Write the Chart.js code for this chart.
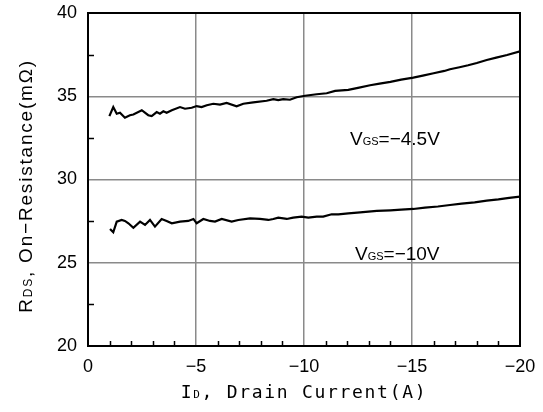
<!DOCTYPE html>
<html><head><meta charset="utf-8">
<script src="https://cdn.jsdelivr.net/npm/chart.js@4"></script>
<style>html,body{margin:0;padding:0;background:#fff}canvas{display:block}</style>
</head><body>
<canvas id="c" width="543" height="412"></canvas>
<script>
// ---- data ----
const currentVgs45 = [-0.99,-1.17,-1.33,-1.48,-1.71,-1.94,-2.10,-2.49,-2.79,-2.95,-3.18,-3.33,-3.49,-3.64,-3.88,-4.26,-4.49,-4.80,-5.03,-5.26,-5.50,-5.80,-6.11,-6.42,-6.88,-7.19,-7.65,-8.27,-8.58,-8.81,-9.04,-9.35,-9.66,-10.05,-10.59,-11.05,-11.44,-12.05,-12.5,-13.06,-13.5,-14.0,-14.5,-15.06,-15.5,-16.0,-16.5,-16.76,-17.2,-17.6,-18.0,-18.46,-18.9,-19.4,-20.0];
const rdsVgs45 = [33.81,34.35,33.95,34.01,33.71,33.86,33.90,34.16,33.86,33.81,34.05,33.95,34.10,34.01,34.16,34.35,34.25,34.31,34.41,34.35,34.46,34.55,34.50,34.60,34.40,34.55,34.63,34.73,34.83,34.77,34.83,34.79,34.94,35.03,35.12,35.18,35.32,35.38,35.50,35.66,35.76,35.86,36.00,36.12,36.24,36.38,36.52,36.62,36.74,36.86,37.00,37.18,37.32,37.48,37.70];
const currentVgs10 = [-1.02,-1.17,-1.33,-1.56,-1.71,-1.87,-2.10,-2.41,-2.64,-2.87,-3.10,-3.41,-3.64,-3.88,-4.26,-4.64,-4.88,-5.03,-5.34,-5.65,-5.88,-6.19,-6.65,-6.96,-7.50,-7.96,-8.35,-8.58,-8.81,-9.20,-9.50,-9.89,-10.20,-10.59,-10.89,-11.28,-11.59,-12.05,-12.6,-13.37,-14.0,-14.5,-15.06,-15.6,-16.2,-16.76,-17.3,-17.9,-18.46,-19.0,-19.5,-20.0];
const rdsVgs10 = [27.03,26.83,27.47,27.57,27.51,27.37,27.10,27.47,27.27,27.57,27.17,27.63,27.51,27.37,27.47,27.51,27.63,27.37,27.63,27.51,27.47,27.63,27.47,27.57,27.67,27.63,27.57,27.63,27.71,27.63,27.71,27.77,27.71,27.77,27.77,27.91,27.91,27.97,28.02,28.11,28.15,28.19,28.23,28.31,28.38,28.47,28.55,28.63,28.73,28.81,28.90,28.97];
const xTickValues = [0,-5,-10,-15,-20];
const yTickValues = [20,25,30,35,40];
const seriesNames = ['VGS=-4.5V','VGS=-10V'];
// annotation anchor points in data units
const labelAnchors = [[-12.13,32.49],[-12.36,25.56]];

const toPts = (xs, ys) => xs.map((x, i) => ({x, y: ys[i]}));
const minus = v => String(v).replace('-', '\u2212');

function drawSubText(ctx, y, main, sub, rest, font, size, subSize, spacing) {
  ctx.letterSpacing = spacing + 'px';
  ctx.font = size + 'px ' + font;
  const w1 = ctx.measureText(main).width;
  ctx.font = subSize + 'px ' + font;
  const w2 = ctx.measureText(sub).width;
  ctx.font = size + 'px ' + font;
  const w3 = ctx.measureText(rest).width;
  return {w: w1 + w2 + w3, draw(x0) {
    ctx.textAlign = 'left'; ctx.textBaseline = 'alphabetic';
    ctx.font = size + 'px ' + font; ctx.fillText(main, x0, y);
    ctx.font = subSize + 'px ' + font; ctx.fillText(sub, x0 + w1, y);
    ctx.font = size + 'px ' + font; ctx.fillText(rest, x0 + w1 + w2, y);
  }};
}

const decor = {
  id: 'decor',
  afterDraw(chart) {
    const {ctx, chartArea: a, scales: {x, y}} = chart;
    ctx.save();
    // minor ticks
    ctx.strokeStyle = '#000'; ctx.lineWidth = 1.5;
    for (let v = -1; v >= -19; v--) {
      if (v % 5 === 0) continue;
      const px = Math.round(x.getPixelForValue(v)) + 0.5;
      ctx.beginPath(); ctx.moveTo(px, a.bottom); ctx.lineTo(px, a.bottom - 5); ctx.stroke();
    }
    for (let v = 22.5; v < 40; v += 5) {
      const py = Math.round(y.getPixelForValue(v)) + 0.5;
      ctx.beginPath(); ctx.moveTo(a.left, py); ctx.lineTo(a.left + 6, py); ctx.stroke();
    }
    // frame
    ctx.lineWidth = 2;
    ctx.strokeRect(a.left, a.top, a.right - a.left, a.bottom - a.top);
    ctx.fillStyle = '#000';
    // x title
    let t = drawSubText(ctx, 398, 'I', 'D', ', Drain Current(A)', '"DejaVu Sans Mono", monospace', 18, 11, 1.7);
    t.draw((a.left + a.right) / 2 - t.w / 2);
    // y title
    ctx.save();
    ctx.translate(32, 186); ctx.rotate(-Math.PI / 2);
    t = drawSubText(ctx, 0, 'R', 'DS', ', On\u2212Resistance(m\u03A9)', '"Liberation Sans", Arial, sans-serif', 19, 12, 1.8);
    t.draw(-t.w / 2);
    ctx.restore();
    // annotations
    seriesNames.forEach((name, i) => {
      const px = x.getPixelForValue(labelAnchors[i][0]);
      const py = y.getPixelForValue(labelAnchors[i][1]);
      const tt = drawSubText(ctx, py + 7, name[0], name.slice(1, 3), minus(name.slice(3)), '"Liberation Sans", Arial, sans-serif', 19, 11, 0);
      tt.draw(px);
    });
    ctx.restore();
  }
};

new Chart(document.getElementById('c'), {
  type: 'scatter',
  data: {
    datasets: [
      {label: seriesNames[0], data: toPts(currentVgs45, rdsVgs45), showLine: true, borderColor: '#000', borderWidth: 2.2, pointRadius: 0, tension: 0, fill: false},
      {label: seriesNames[1], data: toPts(currentVgs10, rdsVgs10), showLine: true, borderColor: '#000', borderWidth: 2.2, pointRadius: 0, tension: 0, fill: false}
    ]
  },
  options: {
    responsive: false,
    animation: false,
    devicePixelRatio: 1,
    layout: {padding: {top: 13, right: 23, left: 0, bottom: 0}},
    plugins: {legend: {display: false}, tooltip: {enabled: false}},
    scales: {
      x: {
        type: 'linear', min: -20, max: 0, reverse: true,
        afterBuildTicks: s => { s.ticks = xTickValues.map(v => ({value: v})); },
        afterFit: s => { s.height = 66; s.paddingLeft = 0; s.paddingRight = 0; },
        grid: {color: '#8a8a8a', lineWidth: 1.5, drawTicks: false},
        border: {color: '#000', width: 2},
        ticks: {color: '#000', padding: 10, font: {family: '"Liberation Sans", Arial, sans-serif', size: 18}, callback: v => minus(v)}
      },
      y: {
        type: 'linear', min: 20, max: 40,
        afterBuildTicks: s => { s.ticks = yTickValues.map(v => ({value: v})); },
        afterFit: s => { s.width = 88; s.paddingTop = 0; s.paddingBottom = 0; },
        grid: {color: '#8a8a8a', lineWidth: 1.5, drawTicks: false},
        border: {color: '#000', width: 2},
        ticks: {color: '#000', padding: 11, font: {family: '"Liberation Sans", Arial, sans-serif', size: 18}}
      }
    }
  },
  plugins: [decor]
});
</script>
</body></html>
